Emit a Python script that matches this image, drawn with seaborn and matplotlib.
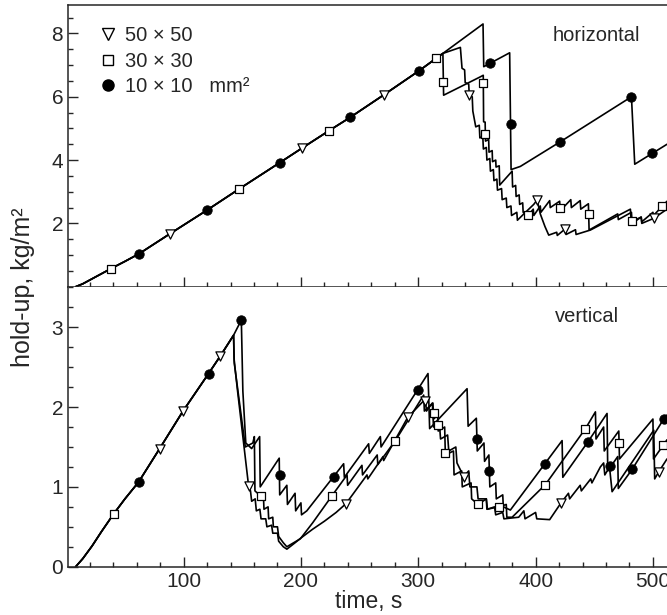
import matplotlib
matplotlib.use("Agg")
import matplotlib.pyplot as plt
from matplotlib.ticker import MultipleLocator
from matplotlib.lines import Line2D
import seaborn as sns

# ---- horizontal panel ----
# shared rising part (all three grid sizes overlap here)
h_rise_t = [8, 14, 22, 30, 39, 50, 62, 87, 120, 147, 182, 201, 224, 242, 271, 301, 321]
h_rise_y = [0, 0.09, 0.25, 0.41, 0.59, 0.8, 1.04, 1.64, 2.42, 3.08, 3.92, 4.38, 4.93, 5.35, 6.07, 6.83, 7.37]

h_c10_t = [355.2, 355.8, 377.9, 379.1, 387, 421.1, 481.7, 484.5, 512]
h_c10_y = [8.3, 6.95, 7.39, 3.7, 3.8, 4.58, 6.0, 3.87, 4.5]

h_s30_t = [321.6, 352.9, 355.4, 355.7, 357, 357.3, 360, 360.3, 363, 363.3, 366, 366.3, 369, 369.4,
           380, 380.4, 383, 383.4, 386, 386.4, 389, 389.4, 393.6, 398, 398.5, 404, 404.5, 412, 412.5,
           420.5, 421, 430, 430.5, 438, 438.5, 445, 445.6, 470, 470.5, 481.7, 482.3, 490, 490.5,
           500, 500.5, 512]
h_s30_y = [6.05, 6.63, 6.68, 5.21, 5.2, 4.6, 4.65, 4.25, 4.3, 3.95, 4.0, 3.78, 3.82, 3.21,
           3.65, 3.15, 3.2, 2.85, 2.9, 2.6, 2.65, 2.35, 2.25, 2.45, 2.25, 2.55, 2.35, 2.72, 2.5,
           2.7, 2.4, 2.75, 2.5, 2.72, 2.45, 2.62, 1.79, 2.3, 2.12, 2.35, 2.0, 2.2, 2.05,
           2.35, 2.25, 2.7]

h_t50_t = [335.9, 337.3, 339.5, 340, 343, 343.5, 346, 346.5, 349, 352, 352.5, 355, 355.5, 358, 358.5,
           361, 361.5, 364, 364.5, 367, 367.5, 371, 371.5, 375, 375.5, 379, 379.5, 384, 384.5, 390,
           398.4, 401.3, 404, 408, 411.2, 418, 418.5, 425.4, 426, 434, 434.5, 446.7, 480.8, 481.5,
           490, 490.5, 500.7, 512]
h_t50_y = [7.56, 6.9, 6.85, 6.45, 6.4, 6.02, 6.0, 5.55, 5.05, 5.1, 4.7, 4.75, 4.35, 4.4, 4.0,
           4.05, 3.65, 3.7, 3.35, 3.4, 3.05, 3.1, 2.75, 2.8, 2.5, 2.55, 2.25, 2.35, 2.1, 2.3,
           2.6, 2.74, 2.3, 1.9, 1.63, 1.72, 1.62, 1.83, 1.65, 1.8, 1.65, 1.79, 2.45, 2.05,
           2.2, 2.0, 2.16, 2.45]

# marker positions
h_c10_mt = [62, 120, 182, 242, 301, 361, 379.1, 421.1, 481.7, 499.3]
h_c10_my = [1.04, 2.42, 3.92, 5.35, 6.83, 7.06, 5.13, 4.58, 6.0, 4.21]
h_s30_mt = [38.5, 147, 224, 315.4, 321.4, 355.6, 357.2, 393.6, 420.7, 445.3, 482.1, 507.8]
h_s30_my = [0.57, 3.08, 4.93, 7.22, 6.47, 6.45, 4.82, 2.27, 2.5, 2.3, 2.08, 2.55]
h_t50_mt = [88, 201, 271, 343.4, 401.3, 425.4, 500.7]
h_t50_my = [1.66, 4.38, 6.07, 6.05, 2.74, 1.83, 2.16]

# ---- vertical panel ----
v_rise_t = [8, 14, 22, 30, 40.3, 50, 61.6, 79.6, 99.5, 121.3, 131.3, 142.6]
v_rise_y = [0, 0.1, 0.26, 0.44, 0.66, 0.85, 1.06, 1.48, 1.95, 2.42, 2.64, 2.9]

v_c10_t = [149.2, 150.5, 153, 158, 164.8, 165.3, 181.5, 181.9, 188, 188.5, 195, 195.5, 200, 200.5,
           205, 236.4, 237, 257.7, 258.3, 267.7, 268.3, 308.3, 309.7, 341.6, 342.5, 349.5, 350.3,
           356, 356.5, 360.2, 361, 366, 366.5, 372, 372.5, 378.5, 422.6, 423.2, 444.4, 460.9,
           461.5, 470, 470.5, 482.3, 509.2, 512]
v_c10_y = [3.09, 2.2, 1.55, 1.48, 1.63, 1.0, 1.36, 0.9, 1.02, 0.78, 0.92, 0.7, 0.8, 0.65,
           0.7, 1.29, 1.12, 1.54, 1.42, 1.63, 1.5, 2.42, 1.73, 2.23, 1.76, 1.86, 1.45,
           1.55, 1.32, 1.4, 1.0, 1.05, 0.85, 0.9, 0.75, 0.71, 1.58, 1.12, 1.56, 1.92,
           1.2, 1.38, 0.98, 1.22, 1.85, 1.9]

v_s30_t = [143.2, 152.6, 159, 160.3, 160.8, 166.2, 168, 168.5, 172, 172.5, 176, 176.5, 180, 181,
           185, 188, 199.5, 210, 226.5, 239.3, 239.8, 252, 252.5, 265, 265.5, 280.5, 304.6, 305.2,
           312.5, 313.1, 316.5, 317, 322.5, 323.1, 330, 330.5, 337, 337.5, 345, 345.5, 351, 358,
           358.5, 368.6, 375, 375.5, 380, 408.4, 442.5, 451, 451.5, 458, 458.5, 470.9, 471.5,
           500, 500.5, 508.7, 512]
v_s30_y = [2.55, 1.5, 1.55, 1.63, 0.95, 0.88, 0.9, 0.72, 0.75, 0.6, 0.62, 0.5, 0.5, 0.38,
           0.3, 0.25, 0.35, 0.55, 0.89, 1.15, 1.02, 1.27, 1.15, 1.4, 1.28, 1.58, 2.15, 1.95,
           2.05, 1.85, 1.9, 1.7, 1.75, 1.4, 1.45, 1.15, 1.2, 1.0, 1.05, 0.85, 0.78, 0.85,
           0.72, 0.75, 0.78, 0.62, 0.62, 1.03, 1.73, 1.94, 1.6, 1.75, 1.45, 1.7, 1.35,
           1.85, 1.35, 1.52, 1.59]

v_t50_t = [143, 146, 155.4, 157, 158, 161, 162, 165, 166, 170, 171, 175, 176, 180, 181, 185, 188,
           195, 200, 210, 220, 230, 238.4, 256.3, 257, 270, 270.5, 291, 306, 307, 312, 313, 318,
           319, 325, 326, 332, 333, 338.7, 343, 344, 350, 351, 358, 359, 365, 366, 372, 373,
           385.6, 390, 391, 400, 401, 412, 421.7, 428, 429, 438, 439, 447, 448, 455.2, 458,
           459, 463, 465.2, 500.7, 501.5, 505, 512]
v_t50_y = [2.6, 2.2, 1.01, 0.95, 0.82, 0.85, 0.7, 0.72, 0.6, 0.6, 0.5, 0.52, 0.42, 0.42, 0.32, 0.25, 0.22,
           0.3, 0.36, 0.47, 0.57, 0.68, 0.79, 1.15, 1.1, 1.38, 1.33, 1.87, 2.1, 1.95, 2.05, 1.75, 1.8,
           1.6, 1.65, 1.45, 1.5, 1.3, 1.13, 1.2, 1.0, 1.0, 0.85, 0.85, 0.72, 0.75, 0.65, 0.68, 0.6,
           0.62, 0.7, 0.6, 0.68, 0.6, 0.59, 0.8, 0.92, 0.85, 1.02, 0.95, 1.1, 1.05, 1.25, 1.3,
           1.15, 1.25, 0.94, 1.71, 1.1, 1.19, 1.35]

v_c10_mt = [61.6, 121.3, 149.2, 181.9, 227.9, 299.5, 350.1, 360.6, 407.8, 444.4, 463.8, 482.3, 509.2]
v_c10_my = [1.06, 2.42, 3.09, 1.15, 1.13, 2.21, 1.6, 1.2, 1.29, 1.56, 1.26, 1.22, 1.85]
v_s30_mt = [40.3, 166.2, 226.5, 280.5, 313.1, 316.9, 323.1, 351, 368.6, 408.4, 442.5, 470.9, 508.7]
v_s30_my = [0.66, 0.88, 0.89, 1.58, 1.93, 1.78, 1.43, 0.78, 0.75, 1.03, 1.73, 1.55, 1.52]
v_t50_mt = [79.6, 99.5, 131.3, 155.4, 238.4, 291, 306, 338.7, 421.7, 505]
v_t50_my = [1.48, 1.95, 2.64, 1.01, 0.79, 1.87, 2.08, 1.13, 0.8, 1.19]

legend_labels = ["50 \u00d7 50", "30 \u00d7 30", "10 \u00d7 10   mm\u00b2"]

sns.set_style("ticks")
plt.rcParams['font.family'] = ['Liberation Sans', 'DejaVu Sans']

fig = plt.figure(figsize=(6.67, 6.15), dpi=100)
ax1 = fig.add_axes([0.102, 0.5338, 0.898, 0.4581])
ax2 = fig.add_axes([0.102, 0.0785, 0.898, 0.4543])


def draw_line(ax, t, y):
    sns.lineplot(x=t, y=y, ax=ax, sort=False, estimator=None, color='black', linewidth=1.2)


def draw_marks(ax, t, y, kind):
    if kind == 'c':
        sns.scatterplot(x=t, y=y, ax=ax, marker='o', s=46, color='black', edgecolor='black',
                        linewidth=0.6, zorder=4)
    elif kind == 's':
        sns.scatterplot(x=t, y=y, ax=ax, marker='s', s=32, facecolor='white', edgecolor='black',
                        linewidth=0.9, zorder=4)
    else:
        sns.scatterplot(x=t, y=y, ax=ax, marker='v', s=44, facecolor='white', edgecolor='black',
                        linewidth=0.9, zorder=4)


# horizontal
for tail_t, tail_y in [(h_c10_t, h_c10_y), (h_s30_t, h_s30_y), (h_t50_t, h_t50_y)]:
    draw_line(ax1, h_rise_t + tail_t, h_rise_y + tail_y)
draw_marks(ax1, h_c10_mt, h_c10_my, 'c')
draw_marks(ax1, h_s30_mt, h_s30_my, 's')
draw_marks(ax1, h_t50_mt, h_t50_my, 't')

# vertical
for tail_t, tail_y in [(v_c10_t, v_c10_y), (v_s30_t, v_s30_y), (v_t50_t, v_t50_y)]:
    draw_line(ax2, v_rise_t + tail_t, v_rise_y + tail_y)
draw_marks(ax2, v_c10_mt, v_c10_my, 'c')
draw_marks(ax2, v_s30_mt, v_s30_my, 's')
draw_marks(ax2, v_t50_mt, v_t50_my, 't')

for ax in (ax1, ax2):
    ax.set_xlim(1.5, 512)
    ax.xaxis.set_major_locator(MultipleLocator(100))
    ax.xaxis.set_minor_locator(MultipleLocator(20))
    ax.tick_params(which='both', direction='in', top=False, right=False, labelsize=15, width=1)
    ax.tick_params(which='major', length=7)
    ax.tick_params(which='minor', length=3.5)
    ax.spines['right'].set_visible(False)
    for s in ['left', 'bottom', 'top']:
        ax.spines[s].set_linewidth(1.1)
    ax.set_xlabel('')
    ax.set_ylabel('')

ax1.set_ylim(0, 8.9)
ax1.set_yticks([2, 4, 6, 8])
ax1.yaxis.set_minor_locator(MultipleLocator(0.5))
ax1.tick_params(labelbottom=False)

ax2.set_ylim(0, 3.5)
ax2.set_yticks([0, 1, 2, 3])
ax2.yaxis.set_minor_locator(MultipleLocator(0.25))
ax2.spines['top'].set_visible(False)

ax1.text(452, 7.95, 'horizontal', ha='center', va='center', fontsize=14.5)
ax2.text(444, 3.13, 'vertical', ha='center', va='center', fontsize=14.5)

handles = [
    Line2D([], [], linestyle='none', marker='v', markersize=8, markerfacecolor='white',
           markeredgecolor='black', markeredgewidth=1.0),
    Line2D([], [], linestyle='none', marker='s', markersize=6.5, markerfacecolor='white',
           markeredgecolor='black', markeredgewidth=1.0),
    Line2D([], [], linestyle='none', marker='o', markersize=8, markerfacecolor='black',
           markeredgecolor='black'),
]
ax1.legend(handles, legend_labels, loc='upper left', bbox_to_anchor=(0.05, 0.925), frameon=False,
           fontsize=14.5, handlelength=1.0, handletextpad=0.35, labelspacing=0.32, borderpad=0,
           borderaxespad=0)

fig.text(0.553, 0.012, 'time, s', ha='center', va='baseline', fontsize=16.5)
fig.text(0.034, 0.533, 'hold-up, kg/m\u00b2', ha='center', va='center', rotation=90, fontsize=18)

fig.savefig('out.png', dpi=100)
